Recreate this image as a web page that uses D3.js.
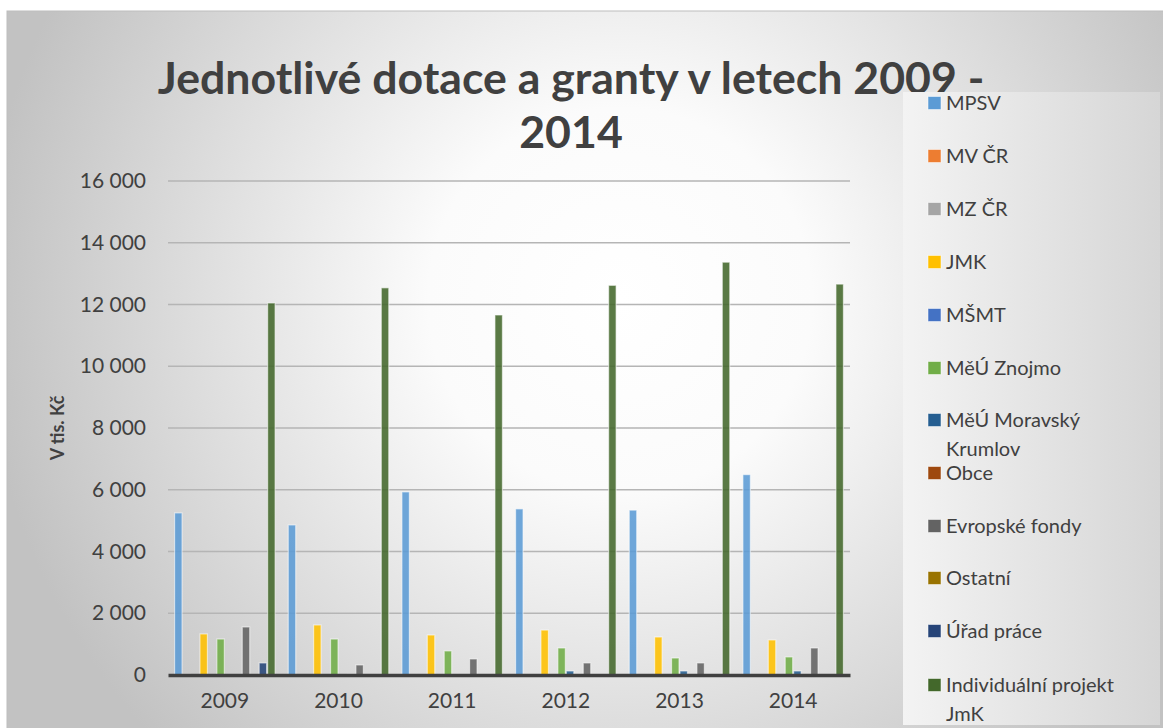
<!DOCTYPE html>
<html>
<head>
<meta charset="utf-8">
<script src="https://cdn.jsdelivr.net/npm/d3@7"></script>
<style>
  body { margin: 0; background: #ffffff; }
  svg text { font-family: Lato, "Open Sans", sans-serif; }
</style>
</head>
<body>
<div id="chart"></div>
<script>
// data (tis. Kč)
var years = ["2009", "2010", "2011", "2012", "2013", "2014"];
var seriesNames = ["MPSV", "MV ČR", "MZ ČR", "JMK", "MŠMT", "MěÚ Znojmo",
  "MěÚ Moravský Krumlov", "Obce", "Evropské fondy", "Ostatní", "Úřad práce",
  "Individuální projekt JmK"];
var mpsv      = [5250, 4860, 5930, 5380, 5340, 6490];
var mvcr      = [20, 0, 0, 0, 0, 0];
var mzcr      = [0, 0, 0, 0, 0, 0];
var jmk       = [1330, 1620, 1295, 1455, 1230, 1135];
var msmt      = [0, 0, 0, 0, 0, 0];
var znojmo    = [1165, 1165, 780, 875, 550, 585];
var krumlov   = [0, 0, 0, 130, 130, 130];
var obce      = [0, 20, 0, 0, 0, 0];
var evropske  = [1555, 325, 520, 390, 390, 875];
var ostatni   = [0, 0, 0, 0, 0, 0];
var uradPrace = [390, 0, 0, 0, 0, 0];
var individ   = [12050, 12540, 11660, 12620, 13370, 12660];
var yTicks = [0, 2000, 4000, 6000, 8000, 10000, 12000, 14000, 16000];

var seriesValues = [mpsv, mvcr, mzcr, jmk, msmt, znojmo, krumlov, obce,
  evropske, ostatni, uradPrace, individ];
var colors = ["#5B9BD5", "#ED7D31", "#A5A5A5", "#FFC000", "#4472C4", "#70AD47",
  "#255E91", "#9E480E", "#636363", "#997300", "#264478", "#43682B"];

var svgWidth = 1163;
var svgHeight = 728;
var plot = { left: 168, right: 850, top: 181, bottom: 675 };

var svg = d3.select("#chart")
  .append("svg")
  .attr("width", svgWidth)
  .attr("height", svgHeight);

// background gradients
var defs = svg.append("defs");
var bg = defs.append("radialGradient")
  .attr("id", "bg")
  .attr("gradientUnits", "userSpaceOnUse")
  .attr("cx", 620).attr("cy", 300).attr("r", 640);
bg.append("stop").attr("offset", "0%").attr("stop-color", "#ffffff");
bg.append("stop").attr("offset", "30%").attr("stop-color", "#fbfbfb");
bg.append("stop").attr("offset", "100%").attr("stop-color", "#c2c2c2");

var lg = defs.append("linearGradient")
  .attr("id", "legbg")
  .attr("x1", "0%").attr("x2", "100%").attr("y1", "0%").attr("y2", "0%");
lg.append("stop").attr("offset", "0%").attr("stop-color", "#f3f3f3");
lg.append("stop").attr("offset", "100%").attr("stop-color", "#d6d6d6");

svg.append("rect")
  .attr("x", 7).attr("y", 11)
  .attr("width", svgWidth - 6).attr("height", svgHeight - 10)
  .attr("fill", "url(#bg)")
  .attr("stroke", "#bdbdbd")
  .attr("stroke-width", 1);

// scales
var x0 = d3.scaleBand()
  .domain(years)
  .range([plot.left, plot.right])
  .paddingInner(0.107)
  .paddingOuter(0.0535);

var x1 = d3.scaleBand()
  .domain(seriesNames)
  .range([0, x0.bandwidth()]);

var y = d3.scaleLinear()
  .domain([0, 16000])
  .range([plot.bottom, plot.top]);

// gridlines
svg.append("g")
  .selectAll("line")
  .data(yTicks.slice(1))
  .enter()
  .append("line")
  .attr("x1", plot.left).attr("x2", plot.right)
  .attr("y1", d => y(d)).attr("y2", d => y(d))
  .attr("stroke", "#b5b5b5")
  .attr("stroke-width", 1.5);

// y axis labels
var fmt = d => d3.format(",")(d).replace(/,/g, " ");
var yAxis = d3.axisLeft(y).tickValues(yTicks).tickFormat(fmt).tickSize(0).tickPadding(22);
var yG = svg.append("g")
  .attr("transform", `translate(${plot.left}, 0)`)
  .call(yAxis);
yG.select(".domain").remove();
yG.selectAll("text")
  .attr("font-size", "21px")
  .attr("fill", "#404040")
  .style("font-family", "Lato, sans-serif");

// bars
var groups = svg.append("g")
  .selectAll("g")
  .data(years)
  .enter()
  .append("g")
  .attr("transform", d => `translate(${x0(d)}, 0)`);

groups.selectAll("rect")
  .data((yr, i) => seriesNames.map((s, j) => ({ s: s, v: seriesValues[j][i], c: colors[j] })))
  .enter()
  .append("rect")
  .filter(d => d.v > 0)
  .attr("x", d => x1(d.s) + 0.5)
  .attr("y", d => y(d.v))
  .attr("width", x1.bandwidth() - 1)
  .attr("height", d => y(0) - y(d.v))
  .attr("fill", d => d.c)
  .attr("fill-opacity", 0.88)
  .attr("stroke", "#ffffff")
  .attr("stroke-opacity", 0.55)
  .attr("stroke-width", 1.2);

// x axis
var xAxis = d3.axisBottom(x0).tickSize(0).tickPadding(18);
var xG = svg.append("g")
  .attr("transform", `translate(0, ${plot.bottom})`)
  .call(xAxis);
xG.select(".domain")
  .attr("stroke", "#404040")
  .attr("stroke-width", 3.5);
xG.selectAll("text")
  .attr("font-size", "21px")
  .attr("fill", "#404040")
  .style("font-family", "Lato, sans-serif");

// y axis title
svg.append("text")
  .attr("transform", "translate(64, 428) rotate(-90)")
  .attr("text-anchor", "middle")
  .attr("font-size", "18px")
  .attr("font-weight", "bold")
  .attr("fill", "#404040")
  .text("V tis. Kč");

// title
var title = svg.append("text")
  .attr("text-anchor", "middle")
  .attr("font-weight", "bold")
  .attr("fill", "#404040")
  .attr("font-size", "40px");
title.append("tspan").attr("x", 571).attr("y", 94).text("Jednotlivé dotace a granty v letech 2009 -");
title.append("tspan").attr("x", 571).attr("y", 148).text("2014");
var firstLen = title.select("tspan").node().getComputedTextLength();
title.attr("font-size", (40 * 827 / firstLen) + "px");

// legend
var legend = svg.append("g");
legend.append("rect")
  .attr("x", 903).attr("y", 92)
  .attr("width", 257).attr("height", 633)
  .attr("fill", "url(#legbg)");

var legendRows = [
  ["MPSV"], ["MV ČR"], ["MZ ČR"], ["JMK"], ["MŠMT"], ["MěÚ Znojmo"],
  ["MěÚ Moravský", "Krumlov"], ["Obce"], ["Evropské fondy"], ["Ostatní"],
  ["Úřad práce"], ["Individuální projekt", "JmK"]
];
var legendY = [103, 156, 209, 262, 315, 368, 420, 473, 526, 578, 631, 685];

var items = legend.selectAll("g.item")
  .data(legendRows)
  .enter()
  .append("g")
  .attr("class", "item")
  .attr("transform", (d, i) => `translate(928, ${legendY[i]})`);

items.append("rect")
  .attr("x", 0).attr("y", -6.5)
  .attr("width", 13).attr("height", 13)
  .attr("fill", (d, i) => colors[i])
  .attr("stroke", "#ffffff")
  .attr("stroke-opacity", 0.5);

items.append("text")
  .attr("x", 18)
  .attr("y", 7)
  .attr("font-size", "20px")
  .attr("fill", "#404040")
  .selectAll("tspan")
  .data(d => d)
  .enter()
  .append("tspan")
  .attr("x", 18)
  .attr("dy", (d, i) => i === 0 ? 0 : 29)
  .text(d => d);
</script>
</body>
</html>
